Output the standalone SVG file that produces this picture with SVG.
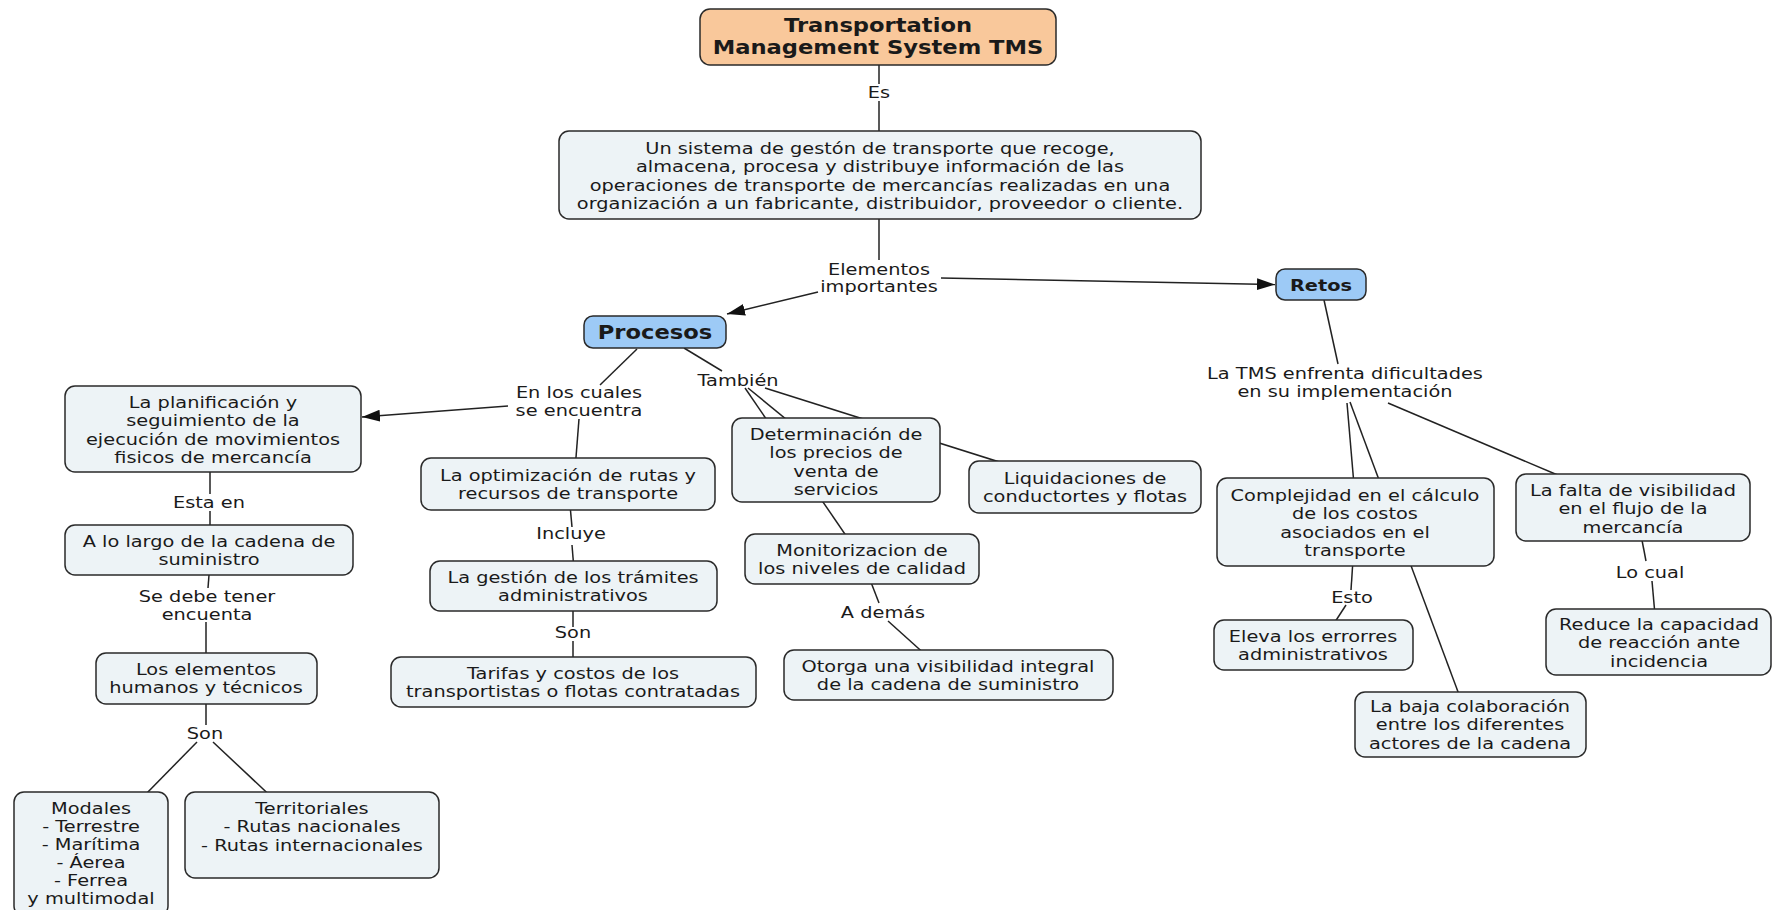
<svg xmlns="http://www.w3.org/2000/svg" width="1777" height="910" viewBox="0 0 1777 910">
<defs>
<style>
.n rect{fill:#edf3f6;stroke:#2a2a2a;stroke-width:1.5}
.n.key rect{fill:#9dcaf6}
.n.top rect{fill:#f9c89b}
.t{font-family:"DejaVu Sans",Verdana,sans-serif;font-size:16px;fill:#1a1a1a;text-anchor:middle}
.b{font-weight:bold}
.big{font-size:18.7px}
.c line{stroke:#222;stroke-width:1.5;fill:none}
</style>
<marker id="arr" markerUnits="userSpaceOnUse" markerWidth="20" markerHeight="14" refX="18" refY="6" orient="auto">
<path d="M0,0 L18,6 L0,12 Z" fill="#111"/>
</marker>
</defs>
<rect width="1777" height="910" fill="#ffffff"/>

<!-- connectors (drawn first so the concept boxes cover their ends) -->
<g id="connectors" class="c">
<line x1="879" y1="65" x2="879" y2="84"/>
<line x1="879" y1="101" x2="879" y2="131"/>
<line x1="879" y1="219" x2="879" y2="260"/>
<line x1="818" y1="292" x2="727" y2="314" marker-end="url(#arr)"/>
<line x1="941" y1="278" x2="1275" y2="284.5" marker-end="url(#arr)"/>
<line x1="637" y1="349" x2="600" y2="385"/>
<line x1="508" y1="406" x2="362" y2="417" marker-end="url(#arr)"/>
<line x1="579" y1="419" x2="575" y2="470"/>
<line x1="684" y1="348" x2="722" y2="371"/>
<line x1="745" y1="388" x2="862" y2="559"/>
<line x1="748" y1="388" x2="836" y2="460"/>
<line x1="765" y1="388" x2="1085" y2="489"/>
<line x1="879" y1="603" x2="862" y2="559"/>
<line x1="888" y1="621" x2="948" y2="675"/>
<line x1="210" y1="471" x2="210" y2="494"/>
<line x1="210" y1="511" x2="210" y2="530"/>
<line x1="209" y1="575" x2="208" y2="588"/>
<line x1="206" y1="622" x2="206" y2="660"/>
<line x1="206" y1="704" x2="206" y2="725"/>
<line x1="197" y1="742" x2="91" y2="850"/>
<line x1="213" y1="742" x2="312" y2="835"/>
<line x1="570" y1="505" x2="572" y2="527"/>
<line x1="572" y1="545" x2="574" y2="570"/>
<line x1="573" y1="605" x2="573" y2="627"/>
<line x1="573" y1="641" x2="573" y2="665"/>
<line x1="1324" y1="300" x2="1338" y2="364"/>
<line x1="1347" y1="403" x2="1354" y2="485"/>
<line x1="1350" y1="402" x2="1470" y2="724"/>
<line x1="1388" y1="403" x2="1560" y2="476"/>
<line x1="1353" y1="560" x2="1351" y2="590"/>
<line x1="1346" y1="605" x2="1333" y2="625"/>
<line x1="1641" y1="535" x2="1646" y2="561"/>
<line x1="1652" y1="581" x2="1655" y2="615"/>
</g>

<!-- linking phrases -->
<g id="labels">
<text class="t" transform="translate(879,0) scale(1.21,1)"><tspan x="0" y="98">Es</tspan></text>
<text class="t" transform="translate(879,0) scale(1.21,1)"><tspan x="0" y="275">Elementos</tspan><tspan x="0" y="292.5">importantes</tspan></text>
<text class="t" transform="translate(579,0) scale(1.21,1)"><tspan x="0" y="398">En los cuales</tspan><tspan x="0" y="416">se encuentra</tspan></text>
<text class="t" transform="translate(738,0) scale(1.21,1)"><tspan x="0" y="386">También</tspan></text>
<text class="t" transform="translate(209,0) scale(1.21,1)"><tspan x="0" y="508">Esta en</tspan></text>
<text class="t" transform="translate(207,0) scale(1.21,1)"><tspan x="0" y="602">Se debe tener</tspan><tspan x="0" y="620">encuenta</tspan></text>
<text class="t" transform="translate(205,0) scale(1.21,1)"><tspan x="0" y="739">Son</tspan></text>
<text class="t" transform="translate(571,0) scale(1.21,1)"><tspan x="0" y="539">Incluye</tspan></text>
<text class="t" transform="translate(573,0) scale(1.21,1)"><tspan x="0" y="638">Son</tspan></text>
<text class="t" transform="translate(883,0) scale(1.21,1)"><tspan x="0" y="618">A demás</tspan></text>
<text class="t" transform="translate(1345,0) scale(1.21,1)"><tspan x="0" y="379">La TMS enfrenta dificultades</tspan><tspan x="0" y="397.5">en su implementación</tspan></text>
<text class="t" transform="translate(1352,0) scale(1.21,1)"><tspan x="0" y="603">Esto</tspan></text>
<text class="t" transform="translate(1650,0) scale(1.21,1)"><tspan x="0" y="578">Lo cual</tspan></text>
</g>

<!-- concepts -->
<g id="n-tms" class="n top">
<rect x="700" y="9" width="356" height="56" rx="10"/>
<text class="t b big" transform="translate(878,0) scale(1.21,1)"><tspan x="0" y="32">Transportation</tspan><tspan x="0" y="54">Management System TMS</tspan></text>
</g>
<g id="n-def" class="n">
<rect x="559" y="131" width="642" height="88" rx="10"/>
<text class="t" transform="translate(880,0) scale(1.21,1)"><tspan x="0" y="154">Un sistema de gestón de transporte que recoge,</tspan><tspan x="0" y="172.5">almacena, procesa y distribuye información de las</tspan><tspan x="0" y="191">operaciones de transporte de mercancías realizadas en una</tspan><tspan x="0" y="209.5">organización a un fabricante, distribuidor, proveedor o cliente.</tspan></text>
</g>
<g id="n-procesos" class="n key">
<rect x="584" y="316" width="142" height="32" rx="9"/>
<text class="t b big" transform="translate(655,0) scale(1.21,1)"><tspan x="0" y="339">Procesos</tspan></text>
</g>
<g id="n-retos" class="n key">
<rect x="1276" y="269" width="90" height="31" rx="9"/>
<text class="t b" transform="translate(1321,0) scale(1.21,1)"><tspan x="0" y="291">Retos</tspan></text>
</g>
<g id="n-planificacion" class="n">
<rect x="65" y="386" width="296" height="86" rx="10"/>
<text class="t" transform="translate(213,0) scale(1.21,1)"><tspan x="0" y="408">La planificación y</tspan><tspan x="0" y="426.5">seguimiento de la</tspan><tspan x="0" y="445">ejecución de movimientos</tspan><tspan x="0" y="463.5">fisicos de mercancía</tspan></text>
</g>
<g id="n-cadena" class="n">
<rect x="65" y="525" width="288" height="50" rx="10"/>
<text class="t" transform="translate(209,0) scale(1.21,1)"><tspan x="0" y="547">A lo largo de la cadena de</tspan><tspan x="0" y="565.5">suministro</tspan></text>
</g>
<g id="n-elementos" class="n">
<rect x="96" y="653" width="221" height="51" rx="10"/>
<text class="t" transform="translate(206,0) scale(1.21,1)"><tspan x="0" y="675">Los elementos</tspan><tspan x="0" y="693.5">humanos y técnicos</tspan></text>
</g>
<g id="n-modales" class="n">
<rect x="14" y="792" width="154" height="124" rx="10"/>
<text class="t" transform="translate(91,0) scale(1.21,1)"><tspan x="0" y="814">Modales</tspan><tspan x="0" y="832">- Terrestre</tspan><tspan x="0" y="850">- Marítima</tspan><tspan x="0" y="868">- Áerea</tspan><tspan x="0" y="886">- Ferrea</tspan><tspan x="0" y="904">y multimodal</tspan></text>
</g>
<g id="n-territoriales" class="n">
<rect x="185" y="792" width="254" height="86" rx="10"/>
<text class="t" transform="translate(312,0) scale(1.21,1)"><tspan x="0" y="814">Territoriales</tspan><tspan x="0" y="832.5">- Rutas nacionales</tspan><tspan x="0" y="851">- Rutas internacionales</tspan></text>
</g>
<g id="n-optimizacion" class="n">
<rect x="421" y="458" width="294" height="52" rx="10"/>
<text class="t" transform="translate(568,0) scale(1.21,1)"><tspan x="0" y="481">La optimización de rutas y</tspan><tspan x="0" y="499.5">recursos de transporte</tspan></text>
</g>
<g id="n-gestion" class="n">
<rect x="430" y="561" width="287" height="50" rx="10"/>
<text class="t" transform="translate(573,0) scale(1.21,1)"><tspan x="0" y="583">La gestión de los trámites</tspan><tspan x="0" y="601.5">administrativos</tspan></text>
</g>
<g id="n-tarifas" class="n">
<rect x="391" y="657" width="365" height="50" rx="10"/>
<text class="t" transform="translate(573,0) scale(1.21,1)"><tspan x="0" y="679">Tarifas y costos de los</tspan><tspan x="0" y="697.5">transportistas o flotas contratadas</tspan></text>
</g>
<g id="n-precios" class="n">
<rect x="732" y="418" width="208" height="84" rx="10"/>
<text class="t" transform="translate(836,0) scale(1.21,1)"><tspan x="0" y="440">Determinación de</tspan><tspan x="0" y="458.5">los precios de</tspan><tspan x="0" y="477">venta de</tspan><tspan x="0" y="495.5">servicios</tspan></text>
</g>
<g id="n-liquidaciones" class="n">
<rect x="969" y="461" width="232" height="52" rx="10"/>
<text class="t" transform="translate(1085,0) scale(1.21,1)"><tspan x="0" y="484">Liquidaciones de</tspan><tspan x="0" y="502.5">conductortes y flotas</tspan></text>
</g>
<g id="n-monitorizacion" class="n">
<rect x="745" y="534" width="234" height="50" rx="10"/>
<text class="t" transform="translate(862,0) scale(1.21,1)"><tspan x="0" y="556">Monitorizacion de</tspan><tspan x="0" y="574.5">los niveles de calidad</tspan></text>
</g>
<g id="n-visibilidad" class="n">
<rect x="784" y="650" width="329" height="50" rx="10"/>
<text class="t" transform="translate(948,0) scale(1.21,1)"><tspan x="0" y="672">Otorga una visibilidad integral</tspan><tspan x="0" y="690.5">de la cadena de suministro</tspan></text>
</g>
<g id="n-complejidad" class="n">
<rect x="1217" y="478" width="277" height="88" rx="10"/>
<text class="t" transform="translate(1355,0) scale(1.21,1)"><tspan x="0" y="501">Complejidad en el cálculo</tspan><tspan x="0" y="519.5">de los costos</tspan><tspan x="0" y="538">asociados en el</tspan><tspan x="0" y="556.5">transporte</tspan></text>
</g>
<g id="n-errores" class="n">
<rect x="1214" y="620" width="199" height="50" rx="10"/>
<text class="t" transform="translate(1313,0) scale(1.21,1)"><tspan x="0" y="642">Eleva los errorres</tspan><tspan x="0" y="660.5">administrativos</tspan></text>
</g>
<g id="n-colaboracion" class="n">
<rect x="1355" y="692" width="231" height="65" rx="10"/>
<text class="t" transform="translate(1470,0) scale(1.21,1)"><tspan x="0" y="712">La baja colaboración</tspan><tspan x="0" y="730.5">entre los diferentes</tspan><tspan x="0" y="749">actores de la cadena</tspan></text>
</g>
<g id="n-falta" class="n">
<rect x="1516" y="474" width="234" height="67" rx="10"/>
<text class="t" transform="translate(1633,0) scale(1.21,1)"><tspan x="0" y="496">La falta de visibilidad</tspan><tspan x="0" y="514.5">en el flujo de la</tspan><tspan x="0" y="533">mercancía</tspan></text>
</g>
<g id="n-reaccion" class="n">
<rect x="1546" y="609" width="225" height="66" rx="10"/>
<text class="t" transform="translate(1659,0) scale(1.21,1)"><tspan x="0" y="630">Reduce la capacidad</tspan><tspan x="0" y="648.5">de reacción ante</tspan><tspan x="0" y="667">incidencia</tspan></text>
</g>
</svg>
